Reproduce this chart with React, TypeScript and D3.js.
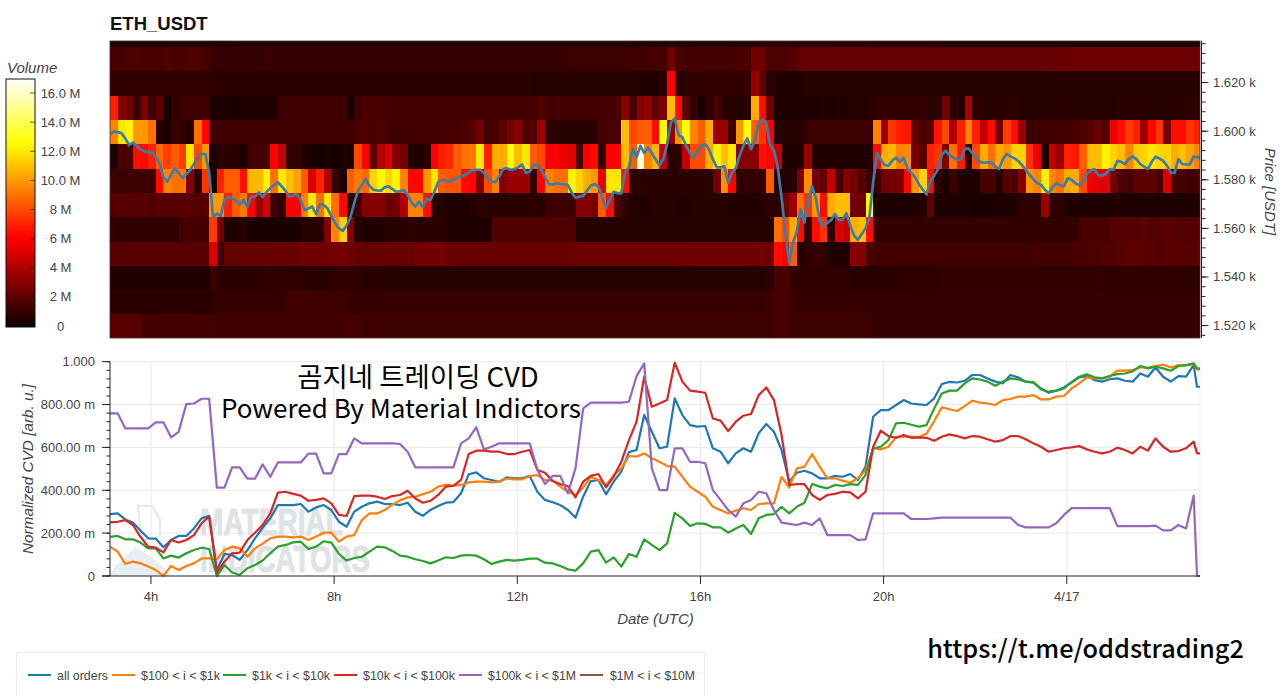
import React from "react";
import * as d3 from "d3";

const title = "ETH_USDT";
const startHour = 3.105;
const endHour = 26.91;

const priceBins = [1640, 1630, 1620, 1610, 1600, 1590, 1580, 1570, 1560, 1550, 1540, 1530, 1520];

const vol1640 = [
.5,.5,.5,.5,.5,.5,.5,.5,.5,.5,
.5,.5,.5,.5,.5,.5,.6,.6,.6,.6,
.6,.6,.6,.6,.6,.6,.6,.6,.6,.6,
.6,.6,.6,.6,.6,.6,.6,.6,.6,.6,
.6,.6,.6,.6,.6,.6,.6,.6,.6,.6,
.6,.6,.6,.6,.6,.6,.6,.6,.6,.6,
.6,.6,.6,.6,.6,.6,.6,.6,.6,.6,
.6,.6,.6,.6,.6,.6,.6,.6,.6,.6,
.6,.6,.6,.6,.6,.8,.8,.8,.8,.8,
.8,.8,.8,.8,.7,.7,.7,.7,.7,.7,
.6,.6,.6,.6,.6,.6,.6,.6,.6,.5,
.5,.5,.5,.5,.5,.5,.5,.5,.5,.5,
.5,.5,.5,.5,.5,.5,.5,.5,.5,.5,
.5,.5,.5,.5,.5,.5,.5,.5,.5,.5,
.5,.5,.5];
const vol1630 = [
1.5,1.5,1.6,1.6,1.5,1.5,1.5,1.6,1.5,1.5,
1.6,1.6,1.5,1.1,1.1,1.1,1.1,1.1,1.1,1.1,
1.2,1.1,1.1,1.1,1.1,1.1,1.1,1.1,1.1,1.1,
1.1,1.1,1.1,1.1,1.1,1.1,1.1,1.1,1.1,1.1,
1.1,1.1,1.1,1.1,1.1,1.1,1.1,1.1,1.1,1.1,
1.1,1.1,1.1,1.1,1.1,1.1,1.1,1.1,1.1,1.1,
1.2,1.2,1.2,1.2,1.2,1.2,1.2,1.2,1.3,1.3,
1.4,1.4,1.4,2.5,1.5,1.4,1.4,1.4,1.4,1.4,
1.4,1.4,1.5,1.5,2.5,2.5,1.6,1.6,1.6,1.8,
2.2,2.2,2.2,2.2,2.2,2.2,2.2,2.2,2.2,2.2,
2.2,2.2,2.2,2.2,2.2,2.2,2.2,2.2,2.2,2.2,
2.2,2.2,2.2,2.2,2.2,2.2,2.2,2.2,2.2,2.2,
2.2,2.2,2.2,2.3,2.3,2.3,2.4,2.4,2.4,2.4,
2.4,2.4,2.4,2.4,2.4,2.4,2.4,2.4,2.4,2.4,
2.4,2.4,2.4];
const vol1620 = [
1,1,1,1,1,1,1,1,1,1,
1,1,1,.8,.8,.8,.8,.8,.8,.8,
.8,.8,.8,.8,.8,.8,.8,.8,.8,.8,
.8,.8,.8,.8,.8,.8,.8,.8,.8,.8,
.8,.8,.8,.8,.8,.8,.8,.8,.8,.8,
.8,.8,.8,.8,.8,.7,.7,.7,.7,.7,
.7,.7,.7,.7,.7,.7,.7,.7,.7,.6,
.6,.6,.8,6,.8,.8,1,1,1,1,
1,1,1,1,3.5,2,.8,.6,.6,.6,
.6,.7,.7,.7,.7,.7,.7,.7,.7,.7,
.7,.7,.7,.7,.7,.7,.7,.7,.7,.7,
.7,.7,.7,.7,.7,.7,.7,.7,.7,.7,
.7,.7,.7,.7,.7,.7,.7,.7,.7,.7,
.7,.7,.7,.7,.7,.7,.7,.7,.7,.7,
.7,.7,.7];
const vol1610 = [
7,3,2.5,1.2,2.8,1.2,2,.3,1,1.2,
1.2,1.2,1.3,.5,.5,.5,.4,.5,.5,.5,
.5,.5,1.2,1.2,1.3,1.3,1.2,1.2,1.2,1.3,
1.3,.3,1.3,1.5,1.5,1.5,1.4,1.4,1.4,1.4,
1.4,1.4,1.4,1.4,1.4,1.4,1.4,1.4,1.4,1.4,
1.4,1.4,1.4,1.4,1.4,1.4,1.8,1.4,1.4,1.4,
1.4,1.4,1.4,1.4,1.4,1.5,1.5,3.1,1.5,3,
3.2,2,2.8,11,6.5,2,1,.4,1,1.5,
.8,.7,.6,.8,10.5,6.5,2.5,.5,.5,.5,
.6,.5,.5,.6,.5,.6,.6,.7,.7,.8,
1,1,1,1,1,1,1,.8,.8,2.5,
.8,.6,4,.8,.8,.7,.7,.8,.8,.7,
.7,.7,.7,.7,.8,.8,.7,.7,.7,.7,
.7,.7,.8,.8,.8,.7,.7,.7,.7,.7,
.8,.9,.9];
const vol1600 = [
9.5,12,12.3,10,10,9,.8,.4,1.2,1,
.8,9,6.3,1.3,1.3,1.3,1.3,1.3,1.3,1.3,
1.3,1.3,1.3,1.3,1.3,1.3,1.3,1.3,1.3,1.3,
1.3,1.3,1.5,1.6,1.5,1.6,1.3,1.3,1.3,1.3,
1.4,1.4,1.4,1.4,1.5,1.5,1.6,1.8,2.5,1.3,
1.5,2,2.5,3,1.8,1.7,3.5,1,.7,.7,
.7,.7,.7,.7,1.5,1.5,1.5,11,8,8.5,
8.5,6.5,12.5,3.5,10,12.5,9.5,8.5,10.5,3.5,
3.5,1.2,10,12.5,8.5,7.5,6,.7,.7,.7,
.7,1.2,1.2,1.2,1.2,1.2,1.2,1.2,1.2,1.2,
9.5,3.5,7.5,7,6.8,2,1.5,1.8,6.7,8,
4,7,9.5,7,4.5,6.5,2.5,7.7,6.5,3.5,
1.2,1.2,1.3,1.3,1.4,1.4,1.5,1.6,1.8,2.2,
1.8,5.5,6.5,7.7,7,3.5,6.3,7.5,2.5,6.5,
6.5,7.5,7];
const vol1590 = [
.4,1.6,1.5,6.5,6.4,7,8.7,7.8,8.5,7.7,
12,8,10,.5,.8,.8,.7,.4,1.3,1.5,
1.5,6.2,4.5,1,1,.5,.4,.3,.4,.3,
.5,.4,8,6.3,2,4,5,3,2.5,.6,
.5,.8,6,7,7.2,8.5,9,9.2,12,7,
10.5,10.5,12.5,11,12,8.5,8,5.8,5.8,5.5,
5.3,1.5,5.8,6.5,1,6,6,11,8.5,16.5,
9.5,10.7,4.5,.8,.9,4.5,8,8,10.5,12.3,
11,12,3,3,3,6.5,6.3,4.5,.5,.5,
.6,3.5,.6,.6,.6,.6,.6,.6,.6,.6,
6.5,10.5,10.8,9.5,9.7,2.5,2,7,7.5,2.8,
9,6.8,.7,8,10.5,9,10.5,10,11.5,11.5,
7.5,5.5,.4,4.5,3.5,7,6.8,8.5,11,11,
12.3,11.5,11,9.5,11.3,11.5,12,11.5,11.5,10.5,
11,10.3,9.5];
const vol1580 = [
1.2,1.2,1.2,1.3,1.2,1.2,6.5,9.5,9,9.2,
3,.8,7.5,.5,7,8.5,8.5,6.5,10.8,10.8,
12.3,9,12,11,10.3,8.5,5,7,4,1,
.4,8.5,9.3,8.8,11.5,12.5,11.5,12.3,9.5,6.3,
6.3,10,12,8.5,8.3,8.3,6.4,6.3,3,8,
9.5,3,3.5,3.5,3.5,1,6,9.5,9,9,
12.3,11.5,10.5,10,5.5,12,12,6.5,.8,.8,
.8,.8,.8,.8,.8,.8,.8,.8,.8,2.5,
9.8,6,1,1,1,1,8.5,.6,.6,.7,
2.8,9.7,2.5,2.2,4.5,1.5,3,2.5,1.8,1.2,
1.2,2.5,2.5,2.8,6.3,10,11.5,6.5,.8,.4,
1.2,.5,.5,.5,1.5,1.5,.8,2,1.5,3,
10,9.5,12.2,9.5,9,10.5,10.5,8,5.5,5.3,
5.3,2.5,1.6,1.4,2,2,2,1.5,5,1.5,
1.5,1.2,1.5];
const vol1570 = [
1.8,1.9,1.8,1.8,1.9,1.8,1.9,1.9,1.8,1.9,
1.9,1.8,1.9,10,10,7,8.5,9.3,6,3.5,
5,1.3,.9,6,6,9.5,12,9,12,9,
6.3,.6,1.3,3,3,3,2.2,2.5,4,9.5,
9.5,6.5,.7,.6,.5,.5,.5,.7,.8,.8,
.7,.7,.8,.8,.8,.8,.7,1.2,1.2,1.2,
1.2,3,3,2.5,8.5,6.5,1.5,1,.6,.6,
.6,.7,.7,.7,.6,.6,.7,.7,.7,.7,
.7,.6,.6,.6,.6,.7,.8,.8,2.5,3.5,
9,7.5,10,6.5,10.5,11,11,2.5,2.5,12.5,
.5,.5,.5,.5,.5,.5,.6,2,.5,.5,
.5,.5,.5,.4,.4,.4,.5,.5,.5,.9,
.9,.9,3.5,.7,.9,.5,.5,.5,.5,.5,
.5,.6,.6,.5,.5,.5,.5,.5,.5,.5,
.5,.5,.5];
const vol1560 = [
1,.9,.9,.9,.9,.9,.9,.9,.9,1.4,
1.4,1.4,1.4,7.7,2.5,.5,.6,.7,.4,.4,
.4,.4,.4,.4,.4,.7,.7,.7,3,9.5,
11.5,3,.7,.5,.6,.6,.7,.7,.7,.8,
.8,.8,.8,.8,.5,.5,.5,.5,.5,.5,
1.7,1.7,1.7,1.7,1.7,1.7,1.7,1.7,1.7,1.7,
1.7,.7,.7,.7,.7,.7,.7,.7,.7,.7,
.7,.7,.7,.7,.7,.7,.7,.7,.7,.7,
.7,.7,.7,.7,.7,.7,.7,9,8,10.5,
6.5,1,6.5,7.5,.8,5,4.5,10.5,11,6.5,
1,1,1,1,1,1,1,1,1,1,
1,1,1,1,1,1,1,1,1,1,
1,1,1,1,1,1,1,1.5,1.5,1.5,
1.5,1.8,1.8,1.9,1.8,2,1.8,1.8,1.9,1.8,
1.8,1.8,1.8];
const vol1550 = [
1.9,1.9,1.9,1.9,1.9,1.9,1.9,1.9,1.9,1.9,
1.9,1.9,1.9,5,1.3,2.2,2.2,2.2,2.2,2.2,
2.2,2.3,2.3,2.3,2.3,2.5,2.5,2.5,2.5,2.6,
2.6,2.4,2.3,2.2,2.2,2.2,2.3,2.3,2.3,2.3,
2.5,2.5,2.5,2.5,2.3,2.3,2.3,2.3,2.3,2.3,
2.3,2.3,2.3,2.3,2.3,2.3,2.3,2.3,2.3,2.3,
2.4,2.4,2.4,2.4,2.4,2.4,2.4,2.4,2.4,2.4,
2.4,2.4,2.4,2.4,2.4,2.5,2.5,2.5,2.5,2.5,
2.5,2.5,2.5,2.5,2.5,2.5,2.3,6.5,6.2,8.5,
.6,.9,1.1,1,.5,.5,.5,3,3,1.5,
1.3,1.3,1.3,1.3,1.3,1.3,1.3,1.3,1.3,1.3,
1.3,1.3,1.3,1.3,1.3,1.3,1.3,1.3,1.3,1.3,
1.3,1.4,1.4,1.4,1.4,1.4,1.5,1.5,1.6,1.6,
1.7,1.7,1.9,2,2,1.9,1.9,1.8,1.9,1.9,
1.9,1.9,1.9];
const vol1540 = [
.6,.6,.6,.6,.6,.6,.6,.6,.6,.6,
.6,.6,.6,1.2,.8,.8,.8,.8,.8,.8,
.9,.9,.9,.9,.9,.8,.8,.8,.8,.9,
.9,.9,.9,.8,.8,.8,.7,.7,.7,.7,
.7,.7,.7,.7,.7,.7,.7,.7,.7,.7,
.7,.7,.7,.7,.7,.7,.7,.7,.7,.7,
.7,.7,.7,.7,.7,.7,.7,.7,.7,.7,
.7,.7,.7,.7,.7,.7,.7,.7,.7,.7,
.7,.7,.7,.7,.7,.7,.8,1.5,1.5,1,
.9,.9,.9,.9,.9,.9,.9,.8,.8,.8,
.8,.8,.8,.8,.9,.9,.9,.9,.9,1,
1,1,1,1,1,1,1,1,1,1,
1,1,1,1,1,1,1,1,1,1,
.9,.9,.9,.9,.9,.9,.9,.9,.9,.9,
.9,.9,.9];
const vol1530 = [
.8,.8,.8,.8,.8,.8,.8,.8,.8,.8,
.8,.8,.8,1,1.1,1.1,1.1,1.1,1.1,1.1,
1.1,1.1,1.1,1.3,1.3,1.3,1.3,1.2,1.2,1.2,
1.2,1.1,1.1,1.1,1.1,1.1,1.1,1.1,1.1,1.1,
1.1,1.1,1.1,1.1,1.1,1.1,1.1,1.1,1.1,1.1,
1.1,1.1,1.1,1.1,1.1,1.1,1.1,1.1,1.1,1.1,
1.1,1.1,1.1,1.1,1.1,1.1,1.1,1.1,1.1,1.1,
1.1,1.1,1.1,1.1,1.1,1.1,1.1,1.1,1.1,1.1,
1.1,1.1,1.1,1.1,1.1,1.1,1.2,1.5,1.5,1.2,
1.1,1.1,1.1,1.1,1.1,1.1,1.1,1.1,1.1,1.1,
1.1,1.1,1.1,1.1,1.1,1.1,1.1,1.1,1.1,1.1,
1.1,1.1,1.1,1.1,1.1,1.1,1.1,1.1,1.1,1.1,
1.1,1.1,1.1,1.1,1.1,1.1,1.1,1.1,1.1,1.1,
1.1,1.1,1.1,1.1,1.1,1.1,1.1,1.1,1.1,1.1,
1.1,1.1,1.1];
const vol1520 = [
1.9,1.9,1.9,1.9,1.4,1.4,1.4,1.4,1.4,1.4,
1.4,1.4,1.4,1.4,1.3,1.3,1.3,1.3,1.3,1.3,
1.3,1.3,1.3,1.3,1.3,1.3,1.3,1.3,1.3,1.3,
1.4,1.4,1.4,1.3,1.3,1.3,1.2,1.2,1.2,1.2,
1.2,1.2,1.2,1.2,1.2,1.2,1.2,1.2,1.2,1.2,
1.2,1.2,1.2,1.2,1.2,1.2,1.2,1.2,1.2,1.2,
1.2,1.2,1.2,1.2,1.2,1.2,1.2,1.2,1.2,1.2,
1.2,1.2,1.2,1.2,1.2,1.2,1.2,1.2,1.2,1.2,
1.2,1.2,1.2,1.2,1.2,1.2,1.3,1.5,1.5,1.3,
1.2,1.2,1.2,1.2,1.2,1.2,1.2,1.2,1.2,1.2,
1.1,1.1,1.1,1.1,1.1,1.1,1.1,1.1,1.1,1.1,
1.1,1.1,1.1,1.1,1.1,1.1,1.1,1.1,1.1,1.1,
1.1,1.1,1.1,1.1,1.1,1.1,1.1,1.1,1.1,1.1,
1.1,1.1,1.1,1.1,1.1,1.1,1.1,1.1,1.1,1.1,
1.1,1.1,1.1];

const volumeRows = [vol1640, vol1630, vol1620, vol1610, vol1600, vol1590, vol1580, vol1570, vol1560, vol1550, vol1540, vol1530, vol1520];

// mid price, one value every five minutes
const midPrice = [
1598.8,1599.8,1599.6,1599.2,1597,1594.3,1595.3,1594,1592.5,1591.7,
1591.3,1591.5,1589.2,1586.5,1581,1579.2,1582,1584.7,1582.8,1580.6,
1582.4,1584,1586.5,1589.1,1590.7,1590.5,1583,1564.5,1566.2,1565,
1571.8,1572.8,1572.3,1571.4,1569.7,1571.8,1569,1573.2,1572.9,1574.8,
1572.9,1575,1576.5,1577.8,1579,1577.3,1575.4,1573,1573.5,1574.1,
1571.4,1567.4,1568.2,1569,1565.9,1570,1569.6,1568.2,1565,1562.2,
1560.1,1559,1561.1,1564.5,1570.4,1575.5,1577.8,1580.3,1577.5,1575.9,
1575.6,1575.5,1576.9,1577.3,1576.2,1575,1575.2,1575.8,1573.7,1570.7,
1569,1571,1568.6,1572.3,1571.7,1575.1,1579,1580,1579.6,1579.3,
1580.2,1580.6,1581.4,1582,1583,1584,1584.1,1584.1,1582.8,1580.7,
1579.3,1579,1581.4,1584.4,1584.8,1584.1,1584.4,1585.1,1586.3,1582.8,
1583.3,1586,1586.2,1584.1,1581,1578.2,1578,1578.7,1578.2,1578.1,
1577.8,1574.8,1572.6,1573,1573.4,1575.5,1577.6,1578.2,1577.3,1572.8,
1568.2,1572,1575.1,1574.5,1574.4,1583,1585.1,1592.6,1589.2,1594,
1591,1593.3,1591,1588.3,1586,1588.5,1594.7,1603.6,1605.3,1598.4,
1597.5,1594,1591,1589.2,1591.5,1594,1594.7,1592.4,1588.5,1585.1,
1585.1,1585.5,1578.7,1583,1584.7,1589.9,1594,1597,1592.6,1596,
1603.6,1604.7,1603.6,1594.3,1592,1585.1,1572.7,1558.3,1546,1554.2,
1558.6,1568,1562.4,1571.4,1577.3,1572.3,1563.1,1561.1,1562.2,1563.5,
1565.9,1563.5,1563.5,1566.3,1561.1,1557,1555.3,1557.7,1560,1564.5,
1578.9,1591,1588.3,1586,1585.8,1587.8,1589.1,1587.4,1589,1584.7,
1582.8,1581,1578.2,1575.9,1574,1579.6,1581.7,1584.4,1590.2,1592,
1590.2,1589.2,1588.1,1588.5,1592.6,1592.9,1591,1589,1587.4,1586.9,
1587.2,1587.2,1585.5,1584.4,1588.5,1590.6,1589.6,1588.8,1587.8,1586,
1584.1,1582,1580.3,1578.6,1578,1575.9,1574.5,1576.9,1578.6,1577.8,
1577.3,1580.6,1580,1578.6,1577.8,1579.6,1582.4,1583.7,1584.4,1582,
1581.7,1582.4,1584.4,1584.1,1587.8,1587.4,1586.5,1588.5,1589.6,1588.5,
1586.5,1585.4,1584.4,1587.4,1589.5,1588.8,1587.8,1585.8,1583,1582.8,
1588.5,1586.5,1586.3,1586.3,1589.6,1589.2,1589.2];

// normalized CVD in milli units, one value every ten minutes, then the last two samples
const cvdAll = [
289,292,264,250,211,176,174,134,168,187,
187,222,269,281,28,103,98,75,121,176,
225,269,331,331,331,336,300,320,331,308,
253,230,300,323,339,347,336,336,331,342,
300,281,308,327,342,345,386,474,484,456,
448,440,460,456,456,467,393,355,344,331,
308,272,370,443,448,381,440,487,578,588,
751,673,596,603,829,751,704,697,700,596,
580,526,572,596,580,666,709,673,588,440,
482,491,479,456,456,467,463,476,448,510,
743,774,774,798,821,805,801,798,829,896,
906,903,911,938,938,922,907,899,938,927,
907,902,875,855,865,880,903,927,933,914,
907,918,922,911,907,945,930,973,930,907,
933,930,984,883,883];
const cvd100to1k = [
137,114,56,67,59,44,28,0,47,28,
47,59,82,82,78,121,137,129,90,129,
151,176,184,184,180,184,168,184,202,202,
160,184,191,261,292,292,308,333,353,367,
370,382,393,417,425,422,425,437,440,440,
437,440,455,451,451,467,471,448,445,417,
393,378,412,463,448,424,471,502,560,557,
572,549,533,513,510,463,417,393,370,323,
308,292,305,316,308,336,339,339,463,412,
502,510,569,510,456,456,445,435,456,494,
596,591,603,647,650,650,647,665,723,787,
778,770,793,818,809,805,798,821,826,837,
837,844,824,824,837,840,875,899,927,922,
922,930,958,958,961,973,973,980,986,973,
984,984,989,964,964];
const cvd1kto10k = [
183,187,171,171,156,129,129,82,95,86,
106,121,132,126,0,51,16,5,36,51,
72,106,137,145,157,160,126,137,162,156,
103,72,84,90,114,137,134,117,95,90,
78,70,59,72,87,84,95,98,95,78,
56,67,75,72,75,81,81,62,59,47,
31,25,59,114,121,62,87,44,103,90,
171,145,121,152,295,269,233,246,243,227,
227,202,222,238,196,269,285,289,323,292,
323,342,429,417,409,425,420,429,425,471,
596,603,634,712,715,706,697,704,782,852,
865,865,899,922,917,907,888,907,922,917,
907,905,871,860,865,875,905,930,941,927,
922,933,942,945,955,980,969,977,969,958,
980,983,992,969,969];
const cvd10kto100k = [
250,253,261,238,183,137,132,110,168,156,
168,191,246,277,16,67,106,109,168,202,
238,292,389,393,383,375,351,355,362,339,
285,280,373,375,375,370,359,373,378,398,
362,342,351,378,417,421,448,569,585,585,
580,580,569,569,580,588,495,482,443,429,
420,367,440,467,476,414,463,533,634,720,
930,790,805,821,995,907,865,860,855,735,
725,676,720,748,756,844,880,821,658,425,
429,429,378,355,378,383,393,390,362,393,
603,678,653,645,658,645,647,645,631,650,
661,653,642,653,650,638,627,634,653,653,
638,619,603,580,588,596,600,606,591,580,
572,580,599,588,572,603,585,642,603,580,
583,596,627,572,572];
const cvd100kto1M = [
759,759,689,689,689,689,717,717,647,673,
802,805,827,827,412,412,507,507,454,454,
521,463,530,530,530,530,571,571,479,479,
569,569,642,619,619,619,619,619,616,580,
507,507,507,507,507,507,619,642,694,591,
603,619,619,619,619,619,495,429,467,467,
386,502,782,809,809,809,809,809,813,933,
992,502,401,401,596,596,533,533,526,401,
355,308,277,339,355,393,386,308,249,243,
238,249,238,269,191,191,191,191,168,171,
292,292,292,292,292,266,266,266,269,272,
272,272,272,272,272,272,272,272,272,238,
227,227,227,227,246,285,317,317,317,317,
317,317,233,233,233,233,233,235,213,213,
238,222,375,0,0];

const seriesNames = ["all orders", "$100 < i < $1k", "$1k < i < $10k", "$10k < i < $100k", "$100k < i < $1M", "$1M < i < $10M"];
const seriesColors = ["#1f77b4", "#ff7f0e", "#2ca02c", "#d62728", "#9467bd", "#8c564b"];
const cvdSeries = [cvdAll, cvd100to1k, cvd1kto10k, cvd10kto100k, cvd100kto1M];
const lastSampleHours = [26.845, 26.91];

const legendLine = [28, 112, 223, 334, 459, 580];
const legendText = [57, 141, 252, 363, 488, 610];
const legendWidth = [51, 79, 78, 92, 88, 85];

const hourTicks = [4, 8, 12, 16, 20, 24];
const hourLabels = ["4h", "8h", "12h", "16h", "20h", "4/17"];
const priceTicks = [1620, 1600, 1580, 1560, 1540, 1520];
const priceTickLabels = ["1.620 k", "1.600 k", "1.580 k", "1.560 k", "1.540 k", "1.520 k"];
const priceMinor = d3.range(1516, 1640, 4);
const cvdTicks = [0, 200, 400, 600, 800, 1000];
const cvdLabels = ["0", "200.00 m", "400.00 m", "600.00 m", "800.00 m", "1.000"];
const cvdMinor = d3.range(0, 1001, 40);
const colorTicks = [0, 2, 4, 6, 8, 10, 12, 14, 16];
const colorTickLabels = ["0", "2 M", "4 M", "6 M", "8 M", "10.0 M", "12.0 M", "14.0 M", "16.0 M"];

const FONT = "'Liberation Sans', Arial, sans-serif";
const CJK = "'Noto Sans CJK KR', sans-serif";
const INK = "#444";

const hot = (v: number) => {
  const t = Math.max(0, Math.min(1, v / 17));
  const r = Math.min(1, 0.04 + t / 0.365);
  const g = Math.max(0, Math.min(1, (t - 0.365) / 0.376));
  const b = Math.max(0, Math.min(1, (t - 0.741) / 0.259));
  return d3.rgb(r * 255, g * 255, b * 255).formatHex();
};

const x = d3.scaleLinear().domain([startHour, endHour]).range([110, 1200]);
const priceY = d3.scaleLinear().domain([1604.6, 1514.9]).range([120, 338]);
const cvdY = d3.scaleLinear().domain([0, 1000]).range([576, 361.7]);
const colorY = d3.scaleLinear().domain([0, 16]).range([326, 93]);

const sampleHour = (i: number) => (i <= 142 ? startHour + i / 6 : lastSampleHours[i - 143]);
const priceLine = d3.line<number>().x((_, i) => x(startHour + i / 12)).y((d) => priceY(d));
const cvdLine = d3.line<number>().x((_, i) => x(sampleHour(i))).y((d) => cvdY(d));

export default function App() {
  const stops = d3.range(0, 1.0001, 0.04);
  return (
    <svg width={1280} height={696} viewBox="0 0 1280 696" style={{ position: "absolute", left: 0, top: 0, display: "block", background: "#fff" }} fontFamily={FONT}>
      <defs>
        <clipPath id="heatClip"><rect x={110} y={41} width={1090} height={297} /></clipPath>
        <clipPath id="cvdClip"><rect x={110} y={358} width={1091} height={219} /></clipPath>
        <linearGradient id="hotBar" x1="0" y1="1" x2="0" y2="0">
          {stops.map((s) => <stop key={s} offset={s} stopColor={hot(s * 17)} />)}
        </linearGradient>
      </defs>

      <text x={110} y={29.5} fontSize={18.5} fontWeight={700} fill="#111">{title}</text>

      {/* heat map */}
      <g clipPath="url(#heatClip)" shapeRendering="crispEdges">
        <rect x={110} y={41} width={1090} height={297} fill="#200000" />
        {volumeRows.map((row, r) =>
          row.map((v, c) => {
            const x0 = x(startHour + c / 6);
            const x1 = x(startHour + (c + 1) / 6);
            const y0 = priceY(priceBins[r] + 4.6);
            const y1 = priceY(priceBins[r] - 5.4);
            return <rect key={`${r}-${c}`} x={x0} y={y0} width={x1 - x0 + 0.6} height={y1 - y0 + 0.6} fill={hot(v)} />;
          })
        )}
      </g>
      <path d={priceLine(midPrice) || ""} fill="none" stroke="#3f7ca3" strokeWidth={2.7} strokeLinejoin="round" clipPath="url(#heatClip)" />
      <rect x={110} y={41} width={1090} height={297} fill="none" stroke="#4a2a2a" strokeWidth={0.8} />

      {/* price axis */}
      <line x1={1201.5} x2={1201.5} y1={41} y2={338} stroke="#222" strokeWidth={1} />
      {priceMinor.map((p) => <line key={p} x1={1201.5} x2={1205.5} y1={priceY(p)} y2={priceY(p)} stroke="#222" strokeWidth={1} />)}
      {priceTicks.map((p, i) => (
        <g key={p}>
          <line x1={1201.5} x2={1208.5} y1={priceY(p)} y2={priceY(p)} stroke="#222" strokeWidth={1} />
          <text x={1213} y={priceY(p) + 4.5} fontSize={13} fill={INK}>{priceTickLabels[i]}</text>
        </g>
      ))}
      <text transform="translate(1265,191.5) rotate(90)" textAnchor="middle" fontSize={15} fontStyle="italic" fill={INK}>Price [USDT]</text>

      {/* colour bar */}
      <text x={7} y={72.5} fontSize={15} fontStyle="italic" fill={INK}>Volume</text>
      <rect x={6} y={79} width={29} height={248} fill="url(#hotBar)" stroke="#111" strokeWidth={1} />
      {colorTicks.map((v, i) => (
        <g key={v}>
          {v > 0 && <line x1={30} x2={35} y1={colorY(v)} y2={colorY(v)} stroke="#222" strokeWidth={1} opacity={0.7} />}
          <text x={60.5} y={colorY(v) + 4.5} fontSize={13} fill={INK} textAnchor="middle">{colorTickLabels[i]}</text>
        </g>
      ))}

      {/* CVD panel */}
      {cvdTicks.filter((v) => v > 0).map((v) => <line key={v} x1={110} x2={1200} y1={cvdY(v)} y2={cvdY(v)} stroke="#e9e9e9" strokeWidth={1} />)}
      {hourTicks.map((h) => <line key={h} x1={x(h)} x2={x(h)} y1={361.7} y2={576} stroke="#e9e9e9" strokeWidth={1} />)}
      <line x1={1200} x2={1200} y1={361.7} y2={576} stroke="#e9e9e9" strokeWidth={1} />

      {/* watermark */}
      <g>
        <path d="M138 506 L152 506 L160 520 L160 536 L150 540 L140 528 Z" fill="none" stroke="#e6e8ea" strokeWidth={2} />
        <path d="M110 572 L135 547 L150 556 L173 576 L110 576 Z" fill="#e6eef2" />
        <text x={200} y={535} fontSize={37} fontWeight={700} fill="#dfe3e6" stroke="#dfe3e6" strokeWidth={1} textLength={143} lengthAdjust="spacingAndGlyphs">MATERIAL</text>
        <text x={200} y={572} fontSize={37} fontWeight={700} fill="#dfe3e6" stroke="#dfe3e6" strokeWidth={1} textLength={170} lengthAdjust="spacingAndGlyphs">INDICATORS</text>
      </g>

      <g clipPath="url(#cvdClip)">
        {cvdSeries.map((s, i) => (
          <path key={i} d={cvdLine(s) || ""} fill="none" stroke={seriesColors[i]} strokeWidth={2.2} strokeLinejoin="round" />
        ))}
      </g>

      {/* axes of CVD panel */}
      <line x1={110} x2={110} y1={361.7} y2={576} stroke="#222" strokeWidth={1} />
      <line x1={102} x2={1200} y1={576} y2={576} stroke="#222" strokeWidth={1} />
      {cvdMinor.map((v) => <line key={v} x1={106.5} x2={110} y1={cvdY(v)} y2={cvdY(v)} stroke="#222" strokeWidth={1} />)}
      {cvdTicks.map((v, i) => (
        <g key={v}>
          <line x1={102} x2={110} y1={cvdY(v)} y2={cvdY(v)} stroke="#222" strokeWidth={1} />
          <text x={95} y={cvdY(v) + 4.5} fontSize={13} fill={INK} textAnchor="end">{cvdLabels[i]}</text>
        </g>
      ))}
      {hourTicks.map((h, i) => (
        <g key={h}>
          <line x1={x(h)} x2={x(h)} y1={576} y2={584} stroke="#222" strokeWidth={1} />
          <text x={x(h)} y={601} fontSize={13} fill={INK} textAnchor="middle">{hourLabels[i]}</text>
        </g>
      ))}
      <text x={655.5} y={624} fontSize={15} fontStyle="italic" fill={INK} textAnchor="middle">Date (UTC)</text>
      <text transform="translate(33,469) rotate(-90)" fontSize={15.3} fontStyle="italic" fill={INK} textAnchor="middle">Normalized CVD [arb. u.]</text>

      {/* overlaid captions */}
      <text x={418} y={387} fontSize={27.5} fontFamily={CJK} fill="#000" textAnchor="middle">곰지네 트레이딩 CVD</text>
      <text x={401} y={418} fontSize={26} fontFamily={CJK} fill="#000" textAnchor="middle">Powered By Material Indictors</text>
      <text x={1085.5} y={657.5} fontSize={25.3} fontFamily={CJK} fontWeight={500} fill="#000" textAnchor="middle">https://t.me/oddstrading2</text>

      {/* legend */}
      <rect x={16.5} y={652.5} width={688} height={60} fill="none" stroke="#eee" strokeWidth={1} />
      {seriesNames.map((n, i) => (
        <g key={n}>
          <line x1={legendLine[i]} x2={legendLine[i] + 23} y1={675} y2={675} stroke={seriesColors[i]} strokeWidth={2} />
          <text x={legendText[i]} y={679.5} fontSize={12} fill={INK} textLength={legendWidth[i]} lengthAdjust="spacingAndGlyphs">{n}</text>
        </g>
      ))}
    </svg>
  );
}
